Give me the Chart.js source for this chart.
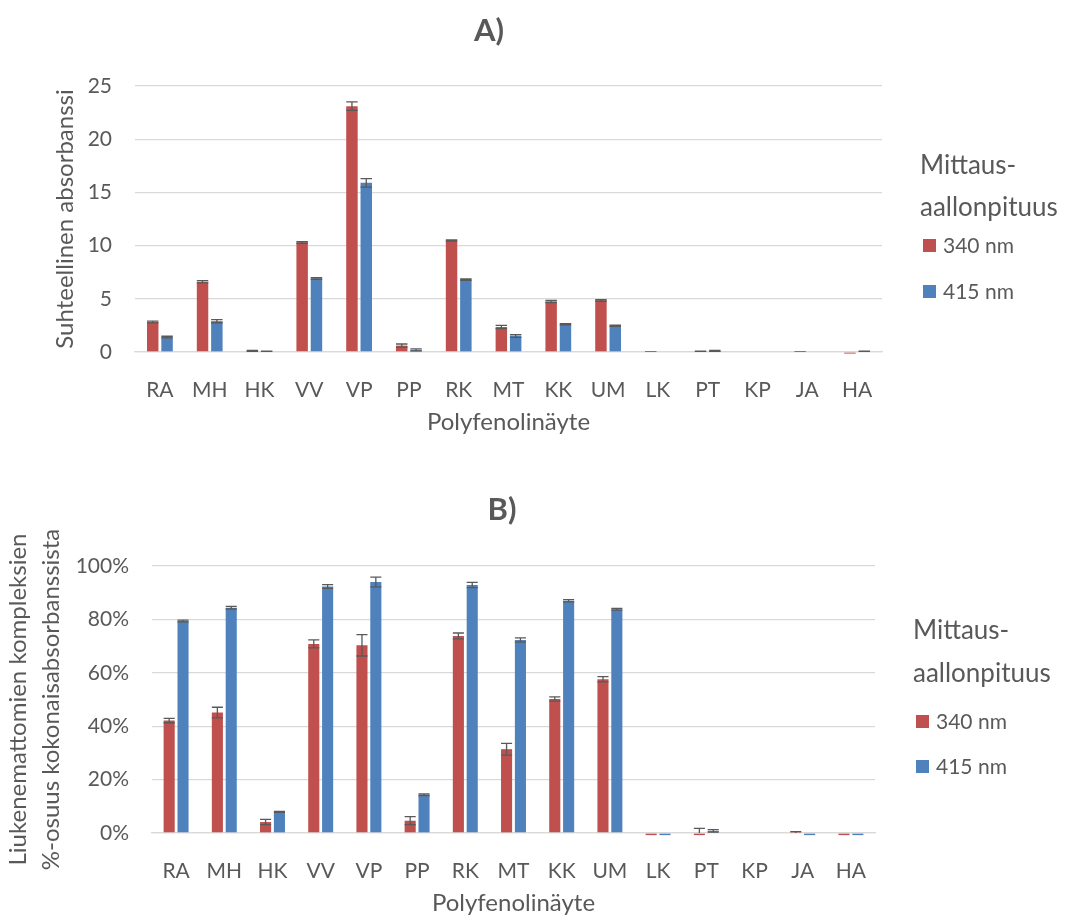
<!doctype html>
<html>
<head>
    <meta charset="UTF-8">
    <title>Polyfenolinäytteet</title>
    <script src="https://cdn.jsdelivr.net/npm/chart.js@4/dist/chart.umd.min.js"></script>
    <style>
        body { margin: 0; background: #fff; overflow: hidden; }
        .holder { position: absolute; left: 0; width: 1067px; }
        #holderA { top: 0; height: 455px; }
        #holderB { top: 455px; height: 464px; }
    </style>
</head>
<body>
<div class="holder" id="holderA"><canvas id="chartA" width="1067" height="455"></canvas></div>
<div class="holder" id="holderB"><canvas id="chartB" width="1067" height="464"></canvas></div>
<script>
    // näytteet
    var samples = ['RA', 'MH', 'HK', 'VV', 'VP', 'PP', 'RK', 'MT', 'KK', 'UM', 'LK', 'PT', 'KP', 'JA', 'HA'];
    var seriesNames = ['340 nm', '415 nm'];
    var seriesColors = ['#C0504D', '#4F81BD'];
    var legendTitle = ['Mittaus-', 'aallonpituus'];

    // A) suhteellinen absorbanssi
    var abs340 = [2.82, 6.6, 0.1, 10.3, 23.1, 0.6, 10.48, 2.35, 4.75, 4.85, 0, 0.03, 0, 0, -0.15];
    var abs340Err = [0.08, 0.1, 0.05, 0.08, 0.4, 0.15, 0.05, 0.15, 0.1, 0.08, 0.02, 0.05, 0, 0.02, 0.02];
    var abs415 = [1.4, 2.9, 0.05, 6.9, 15.9, 0.2, 6.8, 1.5, 2.6, 2.47, 0, 0.1, 0, 0, 0.05];
    var abs415Err = [0.08, 0.15, 0.02, 0.08, 0.4, 0.1, 0.06, 0.12, 0.06, 0.06, 0, 0.05, 0, 0, 0.02];

    // B) liukenemattomien kompleksien osuus (%)
    var pct340 = [42.1, 45.1, 4.1, 70.8, 70.3, 4.6, 73.8, 31.4, 50.2, 57.6, -0.8, -0.8, 0, 0.1, -0.8];
    var pct340Err = [0.8, 2, 1, 1.5, 4, 1.5, 1.1, 2.2, 0.8, 1, 0.2, 2.5, 0, 0.4, 0.2];
    var pct415 = [79.4, 84.4, 7.9, 92.3, 94.0, 14.3, 92.9, 72.3, 87.0, 83.8, -0.8, 0.8, 0, -0.8, -0.8];
    var pct415Err = [0.3, 0.5, 0.2, 0.7, 1.8, 0.3, 1, 0.8, 0.4, 0.3, 0.2, 0.5, 0, 0.2, 0.2];

    var textColor = '#595959';
    var gridColor = '#D9D9D9';

    // virhepalkit (leikataan kuvaajan alueeseen)
    var errorBars = {
        id: 'errorBars',
        afterDatasetsDraw: function (chart) {
            var ctx = chart.ctx;
            var ys = chart.scales.y;
            var area = chart.chartArea;
            ctx.save();
            ctx.beginPath();
            ctx.rect(area.left, area.top - 20, area.right - area.left, area.bottom - area.top + 20);
            ctx.clip();
            ctx.strokeStyle = textColor;
            ctx.lineWidth = 1.3;
            chart.data.datasets.forEach(function (ds, i) {
                chart.getDatasetMeta(i).data.forEach(function (bar, j) {
                    var e = ds.errors[j];
                    if (!e) return;
                    var v = ds.data[j];
                    var t = ys.getPixelForValue(v + e);
                    var b = ys.getPixelForValue(v - e);
                    var hw = bar.width / 2;
                    ctx.beginPath();
                    ctx.moveTo(bar.x, t); ctx.lineTo(bar.x, b);
                    ctx.moveTo(bar.x - hw, t); ctx.lineTo(bar.x + hw, t);
                    ctx.moveTo(bar.x - hw, b); ctx.lineTo(bar.x + hw, b);
                    ctx.stroke();
                });
            });
            ctx.restore();
        }
    };

    // selite oikealla
    var sideLegend = {
        id: 'sideLegend',
        afterDraw: function (chart, args, opts) {
            var ctx = chart.ctx;
            var x = chart.chartArea.right + opts.dx;
            ctx.save();
            ctx.textAlign = 'left';
            ctx.textBaseline = 'middle';
            ctx.fillStyle = textColor;
            ctx.font = '26px Lato';
            legendTitle.forEach(function (line, i) {
                ctx.fillText(line, x, opts.titleY + i * opts.titlePitch);
            });
            ctx.font = '21px Lato';
            chart.data.datasets.forEach(function (ds, i) {
                var y = opts.itemY + i * opts.itemPitch;
                ctx.fillStyle = ds.backgroundColor;
                ctx.fillRect(x + 3, y - 7, 13, 13);
                ctx.fillStyle = textColor;
                ctx.fillText(ds.label, x + 23, y);
            });
            ctx.restore();
        }
    };

    function makeDatasets(vals, errs) {
        return vals.map(function (v, i) {
            return {
                label: seriesNames[i],
                data: v,
                errors: errs[i],
                backgroundColor: seriesColors[i],
                categoryPercentage: 0.575,
                barPercentage: 0.8,
                clip: false
            };
        });
    }

    function makeChart(id, s) {
        var ctx = document.getElementById(id).getContext('2d');
        return new Chart(ctx, {
            type: 'bar',
            data: { labels: samples, datasets: makeDatasets(s.vals, s.errs) },
            options: {
                responsive: false,
                animation: false,
                layout: { padding: { left: 0, right: s.padRight, top: 0, bottom: 0 } },
                plugins: {
                    legend: { display: false },
                    tooltip: { enabled: false },
                    title: {
                        display: true,
                        text: s.title,
                        color: textColor,
                        font: { family: 'Lato', size: 31, weight: 'bold' },
                        padding: { top: s.titleTop, bottom: s.titleBottom }
                    },
                    sideLegend: s.legend
                },
                scales: {
                    x: {
                        grid: { display: false },
                        border: { display: true, color: gridColor, width: 1.3 },
                        ticks: { color: textColor, font: { family: 'Lato', size: 21 }, padding: 18 },
                        title: {
                            display: true,
                            text: 'Polyfenolinäyte',
                            color: textColor,
                            font: { family: 'Lato', size: 24 },
                            padding: { top: 0, bottom: s.xTitlePad }
                        },
                        afterFit: function (scale) { scale.height = s.xHeight; }
                    },
                    y: {
                        min: s.min,
                        max: s.max,
                        grid: { color: gridColor, lineWidth: 1.3, drawTicks: false },
                        border: { display: false },
                        ticks: {
                            stepSize: s.step,
                            color: textColor,
                            font: { family: 'Lato', size: 21 },
                            padding: 23,
                            callback: s.tickFmt
                        },
                        title: {
                            display: true,
                            text: s.yTitle,
                            color: textColor,
                            font: { family: 'Lato', size: 24, lineHeight: s.yTitleLh },
                            padding: { top: s.yTitlePad, bottom: 0 }
                        },
                        afterFit: function (scale) { scale.width = s.yWidth; }
                    },
                    // tyhjä akseli selitteen tilaa varten
                    yr: {
                        position: 'right',
                        grid: { display: false },
                        border: { display: false },
                        ticks: { display: false },
                        afterFit: function (scale) { scale.width = s.rightWidth; }
                    }
                }
            },
            plugins: [errorBars, sideLegend]
        });
    }

    makeChart('chartA', {
        vals: [abs340, abs415], errs: [abs340Err, abs415Err],
        title: 'A)', titleTop: 12, titleBottom: 36.8,
        min: 0, max: 25, step: 5,
        tickFmt: function (v) { return v; },
        yTitle: 'Suhteellinen absorbanssi', yTitleLh: 1.2, yTitlePad: 51, yWidth: 135,
        xHeight: 103, xTitlePad: 18,
        padRight: 89, rightWidth: 96,
        legend: { dx: 38, titleY: 166, titlePitch: 42, itemY: 246, itemPitch: 46 }
    });

    makeChart('chartB', {
        vals: [pct340, pct415], errs: [pct340Err, pct415Err],
        title: 'B)', titleTop: 36.5, titleBottom: 37.3,
        min: 0, max: 100, step: 20,
        tickFmt: function (v) { return v + '%'; },
        yTitle: ['Liukenemattomien kompleksien', '%-osuus kokonaisabsorbanssista'], yTitleLh: 1.4, yTitlePad: 1, yWidth: 152,
        xHeight: 86, xTitlePad: 1,
        padRight: 63, rightWidth: 129,
        legend: { dx: 38, titleY: 175.5, titlePitch: 43, itemY: 267, itemPitch: 45 }
    });
</script>
</body>
</html>
